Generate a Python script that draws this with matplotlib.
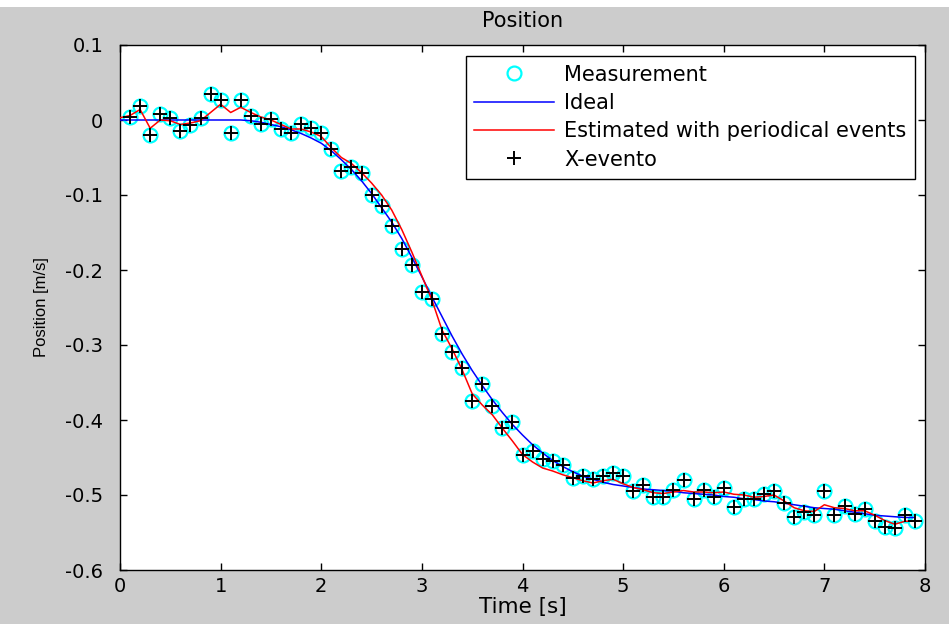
import numpy as np
import matplotlib
matplotlib.use("Agg")
import matplotlib.pyplot as plt
from matplotlib.lines import Line2D
from matplotlib import font_manager

plt.rcParams['font.family'] = ['DejaVu Sans']

# Sampled measurements (every 0.1 s)
t_meas = [round(0.1 * k, 1) for k in range(1, 80)]
measurement = [
    0.004, 0.019, -0.020, 0.008, 0.003, -0.014, -0.006, 0.003, 0.035, 0.027,
    -0.017, 0.027, 0.005, -0.005, 0.001, -0.012, -0.017, -0.005, -0.010, -0.017,
    -0.038, -0.068, -0.063, -0.070, -0.100, -0.114, -0.141, -0.172, -0.193, -0.229,
    -0.238, -0.285, -0.309, -0.330, -0.374, -0.352, -0.381, -0.411, -0.402, -0.447,
    -0.441, -0.452, -0.454, -0.460, -0.477, -0.474, -0.478, -0.474, -0.471, -0.474,
    -0.495, -0.487, -0.502, -0.502, -0.493, -0.480, -0.505, -0.493, -0.502, -0.490,
    -0.516, -0.505, -0.505, -0.498, -0.494, -0.510, -0.529, -0.522, -0.527, -0.495,
    -0.527, -0.515, -0.525, -0.518, -0.534, -0.542, -0.544, -0.526, -0.535,
]

# Event instants reported by the estimator (one per sample)
t_evento = t_meas
x_evento = measurement

# Reference trajectory and estimate on the 0.1 s grid from t = 0
t_line = [round(0.1 * k, 1) for k in range(0, 80)]
ideal = [
    0.000, 0.000, 0.000, 0.000, 0.000, 0.000, 0.000, 0.000, 0.000, 0.000,
    0.000, 0.000, 0.000, -0.001, -0.003, -0.006, -0.009, -0.013, -0.018, -0.024,
    -0.031, -0.041, -0.053, -0.066, -0.081, -0.098, -0.117, -0.136, -0.158, -0.183,
    -0.209, -0.236, -0.262, -0.288, -0.312, -0.334, -0.354, -0.373, -0.390, -0.406,
    -0.420, -0.433, -0.444, -0.454, -0.462, -0.469, -0.475, -0.479, -0.483, -0.486,
    -0.488, -0.490, -0.492, -0.493, -0.494, -0.495, -0.497, -0.498, -0.499, -0.500,
    -0.502, -0.503, -0.505, -0.506, -0.508, -0.509, -0.511, -0.513, -0.515, -0.517,
    -0.518, -0.519, -0.521, -0.523, -0.525, -0.527, -0.528, -0.529, -0.530, -0.530,
]
estimated = [
    0.003, 0.006, 0.014, -0.011, 0.000, -0.001, -0.006, -0.004, -0.001, 0.010,
    0.021, 0.010, 0.017, 0.010, 0.004, 0.000, -0.006, -0.012, -0.012, -0.016,
    -0.022, -0.037, -0.050, -0.058, -0.070, -0.084, -0.100, -0.120, -0.146, -0.176,
    -0.208, -0.240, -0.280, -0.305, -0.333, -0.365, -0.380, -0.393, -0.411, -0.428,
    -0.446, -0.456, -0.464, -0.468, -0.473, -0.477, -0.481, -0.484, -0.481, -0.479,
    -0.485, -0.490, -0.493, -0.497, -0.498, -0.496, -0.494, -0.496, -0.496, -0.497,
    -0.496, -0.499, -0.500, -0.503, -0.502, -0.500, -0.508, -0.517, -0.521, -0.522,
    -0.513, -0.517, -0.518, -0.521, -0.521, -0.527, -0.534, -0.539, -0.535, -0.535,
]

x_ticks = [0, 1, 2, 3, 4, 5, 6, 7, 8]
y_ticks = [-0.6, -0.5, -0.4, -0.3, -0.2, -0.1, 0, 0.1]
y_ticklabels = ['-0.6', '-0.5', '-0.4', '-0.3', '-0.2', '-0.1', '0', '0.1']

# narrow face for the vertical axis label when available
installed = {f.name for f in font_manager.fontManager.ttflist}
if 'Liberation Sans Narrow' in installed:
    ylabel_family, ylabel_size = 'Liberation Sans Narrow', 13.5
else:
    ylabel_family, ylabel_size = 'Liberation Sans', 12

W, H = 949, 624
fig = plt.figure(figsize=(W / 100, H / 100), dpi=100, facecolor='#cccccc')
# thin white strip along the top edge
fig.patches.append(plt.Rectangle((0, 1 - 7 / H), 1, 7 / H, transform=fig.transFigure,
                                 facecolor='white', edgecolor='none', zorder=-1))

ax = fig.add_axes([120 / W, 1 - 570 / H, 805 / W, 525 / H])
ax.set_facecolor('white')

ax.plot(t_meas, measurement, linestyle='none', marker='o', markersize=10,
        markerfacecolor='none', markeredgecolor='cyan', markeredgewidth=1.6, zorder=2)
ax.plot(t_line, ideal, color='blue', linewidth=1.1, zorder=3)
ax.plot(t_line, estimated, color='red', linewidth=1.1, zorder=4)
ax.plot(t_evento, x_evento, linestyle='none', marker='+', markersize=10,
        markeredgecolor='black', markeredgewidth=1.4, zorder=5)

ax.set_xlim(0, 8)
ax.set_ylim(-0.6, 0.1)
ax.set_xticks(x_ticks)
ax.set_yticks(y_ticks)
ax.set_yticklabels(y_ticklabels)
ax.tick_params(direction='in', length=5, width=1, top=True, right=True,
               labelsize=14, colors='black')
ax.tick_params(axis='y', pad=12)
ax.tick_params(axis='x', pad=5)
for sp in ax.spines.values():
    sp.set_linewidth(1.0)

ax.set_title('Position', fontsize=15, pad=13)
ax.set_xlabel('Time [s]', fontsize=15.5, labelpad=1)
ax.set_ylabel('Position [m/s]', fontsize=ylabel_size, family=ylabel_family)
ax.yaxis.set_label_coords(-0.088, 0.5)

handles = [
    Line2D([], [], linestyle='none', marker='o', markersize=10, markerfacecolor='none',
           markeredgecolor='cyan', markeredgewidth=1.6),
    Line2D([], [], color='blue', linewidth=1.1),
    Line2D([], [], color='red', linewidth=1.1),
    Line2D([], [], linestyle='none', marker='+', markersize=10, markeredgecolor='black',
           markeredgewidth=1.4),
]
labels = ['Measurement', 'Ideal', 'Estimated with periodical events', 'X-evento']
leg = ax.legend(handles, labels, loc='upper right',
                bbox_to_anchor=((915 - 120) / 805, (570 - 56) / 525),
                fontsize=15, frameon=True, fancybox=False, framealpha=1,
                edgecolor='black', handlelength=3.8, handletextpad=0.5,
                labelspacing=0.4, borderpad=0.42, borderaxespad=0)
leg.get_frame().set_linewidth(1.0)

fig.savefig('out.png', dpi=100, facecolor=fig.get_facecolor())
